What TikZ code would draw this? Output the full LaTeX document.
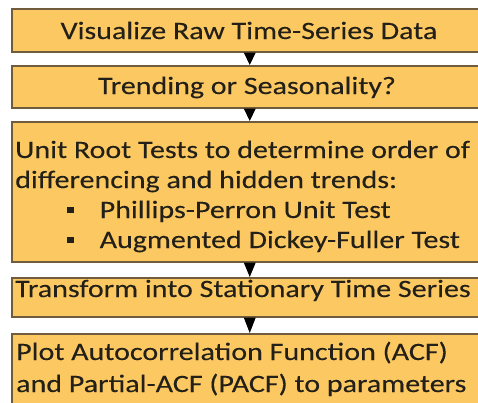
\documentclass[tikz,border=0pt]{standalone}
\usepackage{fontspec}
\setmainfont{Carlito}[FakeStretch=1.2, FakeBold=0.15]
\definecolor{boxfill}{HTML}{FCC862}
\definecolor{boxline}{HTML}{6E5C3C}
\definecolor{ink}{HTML}{222018}
\tikzset{
  stepbox/.style={draw=boxline, line width=1.5pt, fill=boxfill, rectangle,
    anchor=north west, inner sep=0pt, minimum width=476pt},
  txt/.style={inner sep=0pt, text=ink, font=\fontsize{25}{30}\selectfont},
  tip/.style={fill=black}
}
\newcommand{\sqbullet}{\rule[5pt]{6.5pt}{6.5pt}}
\begin{document}
\begin{tikzpicture}[x=1pt, y=-1pt]
  \useasboundingbox (0,0) rectangle (478,402);
  \clip (0,0) rectangle (478,402);
  % process boxes
  \node[stepbox, minimum height=43pt]  (b1) at (11,8)   {};
  \node[stepbox, minimum height=42pt]  (b2) at (11,65)  {};
  \node[stepbox, minimum height=140pt] (b3) at (11,121) {};
  \node[stepbox, minimum height=39pt]  (b4) at (11,277) {};
  \node[stepbox, minimum height=90pt]  (b5) at (11,333) {};
  % box texts
  \node[txt, anchor=base] (t1) at (249,39) {Visualize Raw Time-Series Data};
  \node[txt, anchor=base] (t2) at (247,94) {Trending or Seasonality?};
  \node[txt, anchor=base west] (t3a) at (15,158) {Unit Root Tests to determine order of};
  \node[txt, anchor=base west] (t3b) at (15,188) {differencing and hidden trends:};
  \node[txt, anchor=base west] (t3c) at (67,218) {\sqbullet\hspace{26pt}Phillips-Perron Unit Test};
  \node[txt, anchor=base west] (t3d) at (67,248) {\sqbullet\hspace{26pt}Augmented Dickey-Fuller Test};
  \node[txt, anchor=base west] (t4) at (15,297) {Transform into Stationary Time Series};
  \node[txt, anchor=base west] (t5a) at (16,360) {Plot Autocorrelation Function (ACF)};
  \node[txt, anchor=base west] (t5b) at (16,392) {and Partial-ACF (PACF) to parameters};
  % arrowheads between consecutive boxes
  \foreach \a/\b in {b1/b2, b2/b3, b3/b4, b4/b5} {
    \fill[tip] ([xshift=-6pt]\a.south) -- ([xshift=6pt]\a.south) -- (\b.north) -- cycle;
  }
\end{tikzpicture}
\end{document}
